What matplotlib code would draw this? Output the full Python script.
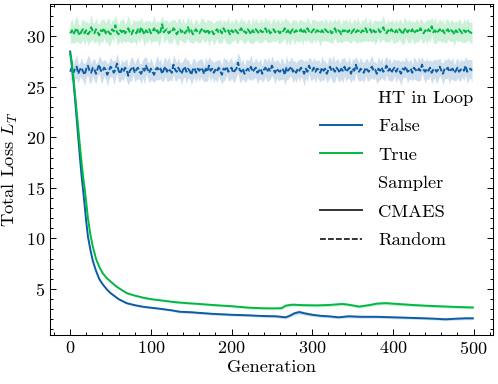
import matplotlib
matplotlib.use("Agg")
import matplotlib.pyplot as plt
from matplotlib.lines import Line2D
from matplotlib.ticker import AutoMinorLocator, MultipleLocator
import numpy as np

# ---------------- data ----------------
# CMAES sampler (mean loss and spread per generation)
cmaes_false_gen = [0, 2, 4, 6, 8, 10, 12, 14, 16, 18, 20, 22, 25, 28, 32, 36, 40, 45, 50, 55, 60, 70, 80, 90,
                   100, 111, 125, 136, 150, 175, 200, 220, 238, 255, 267, 272, 278, 284, 290, 300, 310, 320,
                   333, 345, 360, 380, 400, 420, 440, 455, 465, 475, 490, 499]
cmaes_false_mean = [28.5, 27.2, 25.6, 23.8, 21.9, 20.0, 18.1, 16.3, 14.8, 13.2, 11.6, 10.2, 8.9, 7.8, 6.8, 6.0,
                    5.5, 5.0, 4.6, 4.3, 4.0, 3.6, 3.4, 3.25, 3.15, 3.05, 2.9, 2.75, 2.7, 2.55, 2.45, 2.4, 2.33,
                    2.3, 2.2, 2.35, 2.6, 2.72, 2.6, 2.45, 2.35, 2.3, 2.2, 2.3, 2.25, 2.25, 2.2, 2.15, 2.1, 2.05,
                    2.0, 2.05, 2.1, 2.1]
cmaes_false_sd = [0.3, 0.3, 0.3, 0.3, 0.3, 0.3, 0.25, 0.25, 0.2, 0.2, 0.2, 0.2, 0.15, 0.15, 0.12, 0.12, 0.1,
                  0.1, 0.1, 0.1, 0.1, 0.1, 0.1, 0.1, 0.1, 0.1, 0.1, 0.12, 0.12, 0.12, 0.12, 0.12, 0.12, 0.14,
                  0.14, 0.16, 0.2, 0.2, 0.18, 0.16, 0.14, 0.14, 0.14, 0.15, 0.14, 0.14, 0.14, 0.13, 0.13,
                  0.13, 0.13, 0.14, 0.14, 0.14]

cmaes_true_gen = [0, 2, 4, 6, 8, 10, 12, 14, 16, 18, 20, 22, 25, 28, 32, 36, 40, 45, 50, 55, 60, 70, 80, 90,
                  100, 115, 130, 145, 160, 180, 200, 222, 238, 250, 262, 267, 275, 290, 305, 321, 337, 345,
                  358, 370, 380, 391, 400, 424, 440, 460, 480, 499]
cmaes_true_mean = [28.3, 27.3, 25.9, 24.3, 22.6, 20.9, 19.2, 17.6, 16.1, 14.9, 13.5, 12.0, 10.4, 9.2, 8.0, 7.2,
                   6.6, 6.1, 5.75, 5.4, 5.1, 4.6, 4.35, 4.15, 4.0, 3.85, 3.7, 3.6, 3.52, 3.4, 3.3, 3.15, 3.1,
                   3.08, 3.1, 3.35, 3.45, 3.4, 3.38, 3.42, 3.52, 3.45, 3.26, 3.4, 3.55, 3.6, 3.55, 3.42,
                   3.35, 3.28, 3.22, 3.17]
cmaes_true_sd = [0.3, 0.3, 0.3, 0.3, 0.3, 0.3, 0.25, 0.25, 0.2, 0.2, 0.2, 0.2, 0.15, 0.15, 0.12, 0.12, 0.1,
                 0.1, 0.1, 0.1, 0.1, 0.1, 0.1, 0.1, 0.1, 0.1, 0.1, 0.1, 0.1, 0.12, 0.12, 0.12, 0.12, 0.12,
                 0.12, 0.15, 0.16, 0.15, 0.15, 0.15, 0.17, 0.16, 0.15, 0.15, 0.16, 0.17, 0.16, 0.15, 0.14,
                 0.14, 0.14, 0.14]

# Random sampler (every second generation)
random_gen = list(range(0, 500, 2))
random_false_mean = [
    26.5, 26.9, 26.4, 26.8, 27.0, 26.3, 26.7, 26.9, 26.5, 26.2,
    26.8, 27.1, 26.6, 26.4, 26.9, 26.7, 26.3, 26.8, 27.2, 26.6,
    26.5, 26.9, 26.7, 26.2, 26.6, 27.0, 26.8, 26.4, 26.7, 27.3,
    26.6, 26.3, 26.8, 26.5, 26.9, 26.7, 26.1, 26.6, 26.8, 27.0,
    26.4, 26.7, 26.9, 26.5, 26.3, 26.8, 26.6, 27.1, 26.7, 26.4,
    26.8, 26.5, 26.2, 26.7, 26.9, 26.6, 26.8, 26.3, 26.7, 27.0,
    26.5, 26.8, 26.6, 26.4, 27.2, 26.7, 26.5, 26.9, 26.6, 26.3,
    26.7, 27.0, 26.5, 26.8, 26.6, 26.2, 26.7, 26.9, 26.4, 26.8,
    26.6, 26.9, 26.7, 26.3, 26.8, 26.5, 27.1, 26.6, 26.8, 26.4,
    26.7, 26.5, 26.9, 26.6, 26.2, 26.8, 26.7, 27.0, 26.5, 26.7,
    26.9, 26.4, 26.6, 26.8, 27.4, 26.7, 26.5, 26.8, 26.3, 26.6,
    26.8, 26.6, 27.0, 26.5, 26.7, 26.9, 26.4, 26.6, 26.8, 26.3,
    26.7, 26.9, 26.5, 26.8, 26.6, 27.1, 26.7, 26.4, 26.8, 26.6,
    26.5, 26.8, 26.7, 26.2, 26.9, 26.6, 26.8, 27.0, 26.5, 26.7,
    26.4, 26.8, 26.6, 26.9, 26.7, 26.3, 26.8, 26.5, 27.1, 26.7,
    26.6, 26.9, 26.5, 26.8, 26.7, 26.4, 26.9, 26.6, 26.8, 26.3,
    26.7, 27.0, 26.6, 26.8, 26.5, 26.9, 26.7, 26.4, 26.8, 26.6,
    27.0, 26.5, 26.7, 26.9, 26.3, 26.8, 26.6, 27.2, 26.7, 26.5,
    26.8, 26.6, 26.4, 26.9, 26.7, 26.5, 26.8, 27.0, 26.6, 26.7,
    26.3, 26.8, 26.6, 26.9, 26.5, 26.7, 27.1, 26.6, 26.8, 26.4,
    26.7, 26.9, 26.5, 26.8, 26.6, 26.3, 26.8, 26.7, 27.0, 26.5,
    26.6, 26.8, 26.4, 26.9, 26.7, 26.5, 26.8, 26.6, 27.2, 26.7,
    26.5, 26.8, 26.6, 26.9, 26.4, 26.7, 26.8, 26.5, 26.7, 27.0,
    26.6, 26.3, 26.8, 26.7, 26.9, 26.5, 26.7, 26.8, 26.4, 26.6,
    26.9, 26.5, 26.7, 26.8, 26.6, 27.1, 26.5, 26.7, 26.8, 26.6]
random_false_sd = [
    0.9, 1.1, 0.8, 1.0, 1.2, 0.9, 0.7, 1.0, 0.9, 1.1,
    0.8, 1.0, 1.3, 0.9, 0.8, 1.1, 1.0, 0.7, 0.9, 1.2,
    1.0, 0.8, 0.9, 1.1, 0.9, 1.0, 0.8, 1.2, 0.9, 1.0,
    1.1, 0.8, 1.0, 0.9, 0.7, 1.1, 0.9, 1.0, 1.2, 0.8,
    0.9, 1.0, 1.1, 0.8, 1.0, 0.9, 1.3, 0.9, 0.8, 1.0,
    1.1, 0.9, 0.8, 1.0, 1.2, 0.9, 1.0, 0.8, 1.1, 0.9,
    1.0, 1.2, 0.9, 0.8, 1.0, 1.1, 0.9, 1.0, 0.8, 1.1,
    0.9, 1.0, 1.2, 0.9, 0.8, 1.0, 1.1, 0.9, 1.0, 0.8,
    1.1, 0.9, 1.0, 0.8, 1.2, 1.0, 0.9, 1.1, 0.8, 1.0,
    0.9, 1.1, 0.8, 1.0, 0.9, 1.2, 1.0, 0.8, 0.9, 1.1,
    1.0, 0.9, 1.1, 0.8, 1.0, 1.3, 0.9, 1.0, 0.8, 1.1,
    0.9, 1.0, 1.2, 0.9, 0.8, 1.0, 1.1, 0.9, 1.0, 0.8,
    1.1, 0.9, 1.0, 1.2, 0.8, 1.0, 0.9, 1.1, 0.9, 1.0,
    0.8, 1.1, 0.9, 1.0, 1.2, 0.9, 0.8, 1.0, 1.1, 0.9,
    1.0, 0.8, 1.1, 0.9, 1.0, 1.2, 0.9, 1.0, 0.8, 1.1,
    0.9, 1.0, 1.1, 0.8, 1.0, 0.9, 1.2, 1.0, 0.8, 0.9,
    1.1, 1.0, 0.9, 1.4, 1.0, 0.8, 1.1, 0.9, 1.0, 1.2,
    0.9, 1.0, 0.8, 1.1, 0.9, 1.0, 1.1, 0.8, 1.0, 0.9,
    1.2, 0.9, 1.0, 0.8, 1.1, 0.9, 1.0, 1.1, 0.9, 0.8,
    1.0, 1.2, 0.9, 1.0, 0.8, 1.1, 0.9, 1.0, 1.1, 0.9,
    1.0, 0.8, 1.1, 0.9, 1.0, 1.2, 0.9, 0.8, 1.0, 1.1,
    0.9, 1.0, 0.8, 1.1, 1.0, 0.9, 1.2, 1.0, 0.8, 0.9,
    1.1, 1.0, 0.9, 0.8, 1.1, 1.0, 0.9, 1.2, 1.0, 0.9,
    0.8, 1.1, 1.0, 0.9, 1.0, 1.2, 0.9, 1.1, 0.8, 1.0,
    1.0, 0.9, 1.1, 0.8, 1.0, 0.9, 1.2, 1.0, 0.9, 1.1]
random_true_mean = [
    30.3, 30.6, 30.2, 30.5, 30.8, 30.4, 30.1, 30.5, 30.7, 30.3,
    30.6, 30.2, 30.4, 30.9, 30.5, 30.3, 30.7, 30.4, 30.1, 30.6,
    30.5, 30.8, 30.3, 30.6, 30.4, 30.2, 30.7, 30.5, 31.1, 30.4,
    30.2, 30.6, 30.4, 30.7, 30.3, 30.5, 30.8, 30.4, 30.2, 30.6,
    30.5, 30.3, 30.7, 30.4, 30.9, 30.5, 30.2, 30.6, 30.4, 30.7,
    30.3, 30.5, 30.8, 30.4, 30.6, 30.2, 30.5, 31.2, 30.4, 30.6,
    30.7, 30.3, 30.5, 30.4, 30.8, 30.6, 30.2, 30.5, 30.7, 30.4,
    30.6, 30.3, 30.5, 30.9, 30.4, 30.6, 30.2, 30.5, 30.7, 30.4,
    30.3, 30.6, 30.8, 30.5, 30.4, 30.7, 30.3, 30.6, 30.5, 30.2,
    30.5, 30.7, 30.4, 30.6, 30.3, 30.8, 30.5, 30.4, 30.6, 30.2,
    30.6, 30.4, 30.7, 30.5, 30.3, 30.6, 30.8, 30.4, 30.5, 30.3,
    30.7, 30.5, 30.2, 30.6, 30.4, 30.7, 30.5, 30.3, 30.6, 30.4,
    30.5, 30.8, 30.4, 30.6, 30.3, 30.5, 30.7, 30.4, 30.6, 30.5,
    30.3, 30.6, 30.5, 30.8, 30.4, 30.6, 30.2, 30.5, 30.7, 30.4,
    30.6, 30.4, 30.5, 30.7, 30.3, 30.6, 30.4, 30.8, 30.5, 30.3,
    30.5, 30.7, 30.4, 30.6, 30.5, 30.3, 30.6, 30.4, 30.7, 30.5,
    30.4, 30.6, 30.3, 30.5, 30.8, 30.4, 30.6, 30.5, 30.2, 30.6,
    30.5, 30.7, 30.4, 30.6, 30.3, 30.5, 30.7, 30.4, 30.6, 30.5,
    30.3, 30.6, 30.5, 30.8, 30.4, 30.5, 30.7, 30.3, 30.6, 30.4,
    30.5, 30.7, 30.4, 30.6, 30.9, 30.5, 30.3, 30.6, 30.4, 30.7,
    30.5, 30.3, 30.6, 30.4, 30.7, 30.5, 30.2, 30.6, 30.8, 30.4,
    30.6, 30.4, 30.7, 30.3, 30.5, 30.6, 30.4, 30.8, 30.5, 30.3,
    30.6, 30.4, 30.7, 30.5, 31.0, 30.4, 30.6, 30.3, 30.5, 30.7,
    30.4, 30.6, 30.3, 30.5, 30.7, 30.4, 30.6, 30.5, 30.2, 30.6,
    30.4, 30.7, 30.5, 30.3, 30.6, 30.4, 30.7, 30.5, 30.4, 30.3]
random_true_sd = [
    1.0, 1.2, 0.9, 1.1, 1.3, 1.0, 0.8, 1.1, 1.0, 1.2,
    0.9, 1.1, 1.0, 1.3, 0.9, 1.0, 1.2, 0.9, 1.1, 1.0,
    1.2, 0.9, 1.0, 1.1, 1.4, 1.0, 0.9, 1.1, 1.0, 1.2,
    0.9, 1.0, 1.2, 1.1, 0.9, 1.0, 1.3, 1.0, 0.9, 1.1,
    1.0, 1.2, 0.9, 1.1, 1.0, 0.9, 1.2, 1.0, 1.1, 0.9,
    1.1, 1.0, 1.3, 0.9, 1.0, 1.2, 1.0, 0.9, 1.1, 1.0,
    0.9, 1.1, 1.0, 1.2, 0.9, 1.0, 1.1, 1.3, 1.0, 0.9,
    1.2, 1.0, 0.9, 1.1, 1.0, 1.2, 0.9, 1.0, 1.1, 1.0,
    0.9, 1.2, 1.0, 1.1, 0.9, 1.0, 1.3, 1.0, 0.9, 1.1,
    1.0, 0.9, 1.1, 1.2, 1.0, 0.9, 1.0, 1.1, 1.3, 1.0,
    1.1, 0.9, 1.0, 1.2, 1.0, 0.9, 1.1, 1.0, 1.2, 0.9,
    1.0, 1.1, 0.9, 1.3, 1.0, 1.1, 0.9, 1.0, 1.2, 1.0,
    0.9, 1.1, 1.0, 1.2, 0.9, 1.0, 1.1, 1.0, 0.9, 1.2,
    1.0, 1.1, 0.9, 1.0, 1.3, 1.0, 1.1, 0.9, 1.0, 1.2,
    1.0, 0.9, 1.1, 1.0, 1.2, 0.9, 1.0, 1.1, 1.0, 0.9,
    1.2, 1.0, 1.1, 0.9, 1.0, 1.3, 1.0, 0.9, 1.1, 1.0,
    0.9, 1.2, 1.0, 1.1, 0.9, 1.0, 1.2, 1.0, 0.9, 1.1,
    1.0, 1.1, 0.9, 1.2, 1.0, 0.9, 1.1, 1.0, 1.3, 1.0,
    0.9, 1.1, 1.0, 1.2, 0.9, 1.0, 1.1, 0.9, 1.0, 1.2,
    1.0, 0.9, 1.1, 1.0, 1.2, 1.0, 0.9, 1.1, 1.0, 0.9,
    1.1, 1.0, 1.2, 0.9, 1.0, 1.1, 1.0, 1.3, 0.9, 1.0,
    1.2, 1.0, 0.9, 1.1, 1.0, 1.2, 0.9, 1.0, 1.1, 1.0,
    0.9, 1.2, 1.0, 1.1, 0.9, 1.0, 1.3, 1.0, 0.9, 1.1,
    1.0, 1.1, 0.9, 1.2, 1.0, 0.9, 1.1, 1.0, 1.2, 0.9,
    1.0, 1.1, 1.0, 0.9, 1.2, 1.0, 1.1, 0.9, 1.0, 1.1]

hue_labels = ["False", "True"]
style_labels = ["CMAES", "Random"]
colors = {"False": "#0C5DA5", "True": "#00B945"}

# ---------------- style ----------------
plt.rcParams.update({
    "font.family": "serif",
    "font.serif": ["cmr10"],
    "mathtext.fontset": "cm",
    "axes.formatter.use_mathtext": True,
    "axes.linewidth": 0.75,
    "xtick.direction": "in", "ytick.direction": "in",
    "xtick.top": True, "ytick.right": True,
    "xtick.major.size": 4.0, "ytick.major.size": 4.0,
    "xtick.minor.size": 2.0, "ytick.minor.size": 2.0,
    "xtick.major.width": 0.7, "ytick.major.width": 0.7,
    "xtick.minor.width": 0.7, "ytick.minor.width": 0.7,
    "xtick.minor.visible": True, "ytick.minor.visible": True,
})

fig = plt.figure(figsize=(4.98, 3.84), dpi=100)
ax = fig.add_axes([50 / 498, 49 / 384, 443 / 498, 331 / 384])

series = [
    (cmaes_false_gen, cmaes_false_mean, cmaes_false_sd, "False", "-"),
    (random_gen, random_false_mean, random_false_sd, "False", "--"),
    (cmaes_true_gen, cmaes_true_mean, cmaes_true_sd, "True", "-"),
    (random_gen, random_true_mean, random_true_sd, "True", "--"),
]
for g, m, s, hue, ls in series:
    g = np.asarray(g); m = np.asarray(m); s = np.asarray(s)
    c = colors[hue]
    ax.fill_between(g, m - s, m + s, color=c, alpha=0.2, linewidth=0)
    line, = ax.plot(g, m, color=c, lw=1.4, ls=ls)
    if ls == "--":
        line.set_dashes((3, 1.1))

ax.set_xlim(-25, 524)
ax.set_ylim(0.45, 33.2)
ax.xaxis.set_major_locator(MultipleLocator(100))
ax.yaxis.set_major_locator(MultipleLocator(5))
ax.xaxis.set_minor_locator(AutoMinorLocator(5))
ax.yaxis.set_minor_locator(AutoMinorLocator(5))
ax.tick_params(labelsize=13)
ax.set_yticks([5, 10, 15, 20, 25, 30])
ax.set_xlabel("Generation", fontsize=13.3, labelpad=2)
ax.set_ylabel("Total Loss $L_T$", fontsize=13.3, labelpad=4)

blank = Line2D([], [], linestyle="none")
handles = [blank,
           Line2D([], [], color=colors["False"], lw=1.4),
           Line2D([], [], color=colors["True"], lw=1.4),
           blank,
           Line2D([], [], color="0.2", lw=1.4),
           Line2D([], [], color="0.2", lw=1.4, dashes=(3, 1.1))]
labels = ["HT in Loop", "False", "True", "Sampler", "CMAES", "Random"]
ax.legend(handles, labels, loc="upper left", bbox_to_anchor=((320 - 50) / 443, (335 - 90) / 331),
          frameon=False, fontsize=13.3, borderaxespad=0, borderpad=0,
          handlelength=2.3, handletextpad=0.85, labelspacing=0.68)

fig.savefig("out.png", dpi=100)
